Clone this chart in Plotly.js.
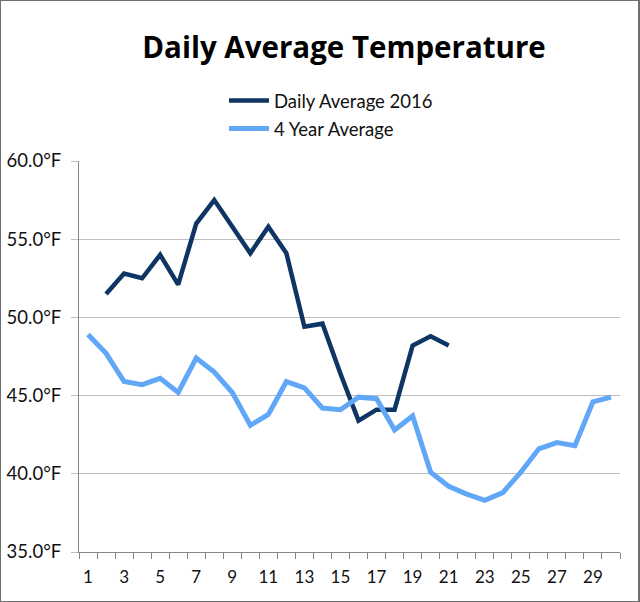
<!DOCTYPE html>
<html>
<head>
<meta charset="utf-8">
<script src="https://cdn.plot.ly/plotly-3.0.1.min.js"></script>
<style>
  html, body { margin: 0; padding: 0; background: #fff; }
  #chart { position: absolute; left: 0; top: 0; width: 640px; height: 602px; }
  #frame { position: absolute; left: 0; top: 0; width: 640px; height: 602px; box-sizing: border-box;
           border: 1px solid #6f6f6f; border-right-width: 2px; pointer-events: none; }
</style>
</head>
<body>
<div id="chart"></div>
<div id="frame"></div>
<script>
// Days of the month
const days2016 = [2,3,4,5,6,7,8,9,10,11,12,13,14,15,16,17,18,19,20,21];
const daily2016 = [51.5,52.8,52.5,54.0,52.1,56.0,57.5,55.8,54.1,55.8,54.1,49.4,49.6,46.4,43.4,44.1,44.1,48.2,48.8,48.2];

const daysAll = [1,2,3,4,5,6,7,8,9,10,11,12,13,14,15,16,17,18,19,20,21,22,23,24,25,26,27,28,29,30];
const fourYearAvg = [48.9,47.7,45.9,45.7,46.1,45.2,47.4,46.5,45.2,43.1,43.8,45.9,45.5,44.2,44.1,44.9,44.8,42.8,43.7,40.1,39.2,38.7,38.3,38.8,40.1,41.6,42.0,41.8,44.6,44.9];

const xTickVals = [1,3,5,7,9,11,13,15,17,19,21,23,25,27,29];
const xTickText = ['1','3','5','7','9','11','13','15','17','19','21','23','25','27','29'];

const seriesNames = ['Daily Average 2016', '4 Year Average'];

const FONT = 'Lato, "Open Sans", sans-serif';
const TFONT = '"Open Sans", Lato, sans-serif';

const traces = [
  {
    x: days2016, y: daily2016, name: seriesNames[0], type: 'scatter', mode: 'lines',
    line: { color: '#0E3563', width: 4.5 }, legendgroup: 'a', hoverinfo: 'skip'
  },
  {
    x: daysAll, y: fourYearAvg, name: seriesNames[1], type: 'scatter', mode: 'lines',
    line: { color: '#61A7F7', width: 5 }, legendgroup: 'b', hoverinfo: 'skip'
  }
];

const layout = {
  width: 640, height: 602,
  margin: { l: 78.5, r: 20, t: 161, b: 49.7, autoexpand: false },
  paper_bgcolor: '#fff', plot_bgcolor: '#fff',
  font: { family: FONT, color: '#111', size: 17 },
  title: {
    text: '<b>Daily Average Temperature</b>',
    font: { family: TFONT, size: 29.5, color: '#000' },
    xref: 'container', yref: 'container',
    x: 0.5375, y: 0.92, xanchor: 'center', yanchor: 'middle'
  },
  showlegend: true,
  legend: {
    orientation: 'v', x: 0.350, xref: 'container', y: 0.864, yref: 'container',
    xanchor: 'left', yanchor: 'top',
    font: { family: FONT, size: 18.5, color: '#111' },
    tracegroupgap: 1, itemwidth: 40, bgcolor: 'rgba(0,0,0,0)'
  },
  xaxis: {
    range: [0.5, 30.5], tickmode: 'array', tickvals: xTickVals, ticktext: xTickText,
    ticks: '', showgrid: false, zeroline: false,
    showline: true, linecolor: '#868686', linewidth: 1,
    tickfont: { family: FONT, size: 17, color: '#111' },
    ticklabelstandoff: 10, tickangle: 0, automargin: false,
    minor: { tickmode: 'linear', tick0: 0.5, dtick: 1, ticks: 'outside', ticklen: 6, tickcolor: '#868686', tickwidth: 1, showgrid: false },
    fixedrange: true
  },
  yaxis: {
    range: [35, 60], tickmode: 'linear', tick0: 35, dtick: 5,
    tickformat: '.1f', ticksuffix: '°F',
    ticks: 'outside', ticklen: 7, tickcolor: '#bfbfbf', tickwidth: 1,
    showgrid: true, gridcolor: '#bfbfbf', gridwidth: 1, zeroline: false,
    showline: true, linecolor: '#868686', linewidth: 1,
    tickfont: { family: FONT, size: 18.5, color: '#111' },
    ticklabelstandoff: 6, automargin: false,
    fixedrange: true
  }
};

Plotly.newPlot('chart', traces, layout, { staticPlot: true, displayModeBar: false });
</script>
</body>
</html>
